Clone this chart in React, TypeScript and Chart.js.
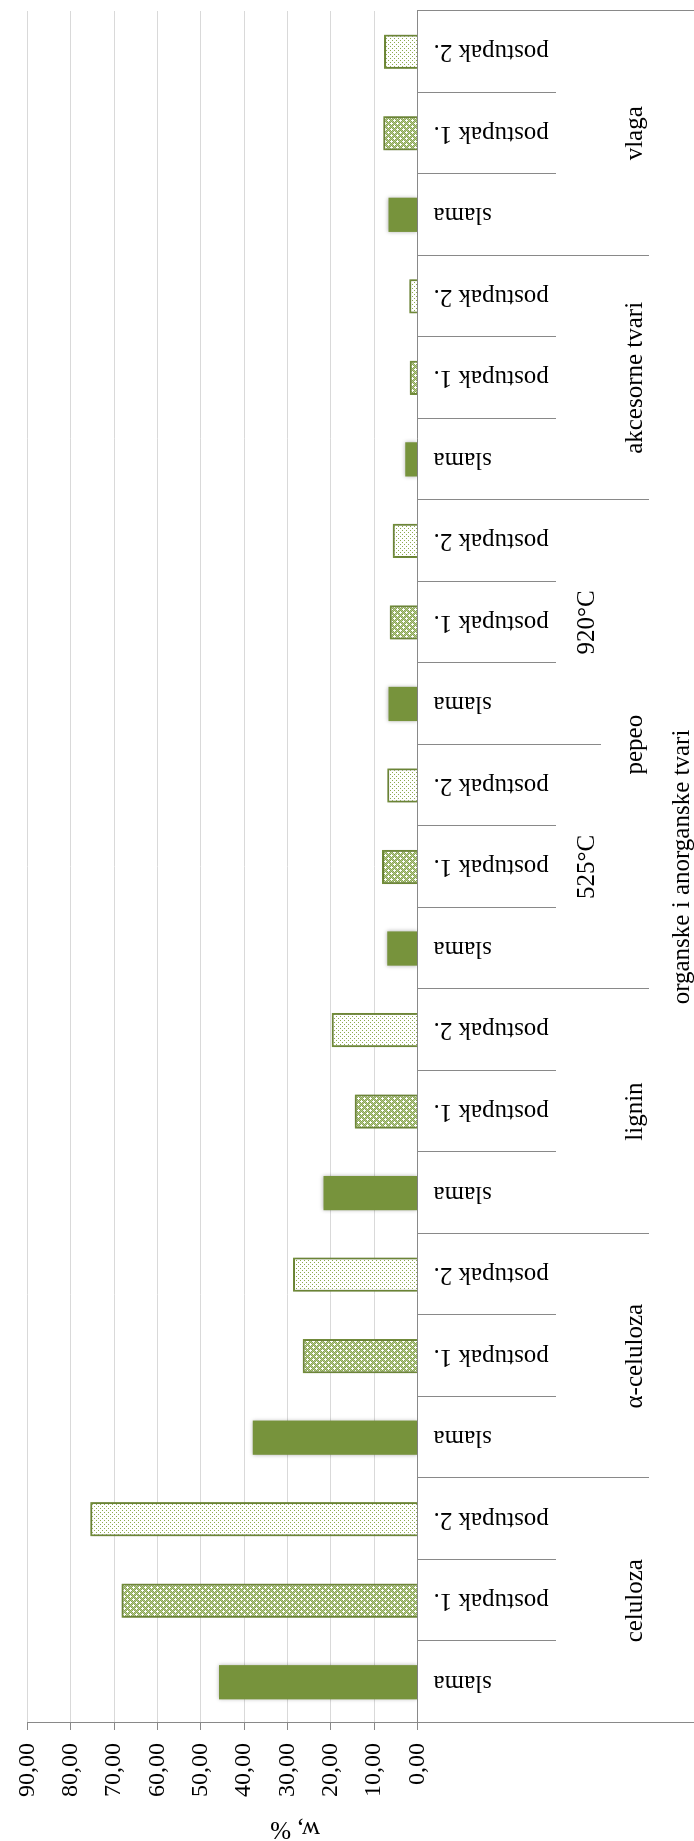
import React, { useEffect, useRef } from 'react';
import { Chart, registerables } from 'chart.js';

Chart.register(...registerables);

// ---- data ----
const sampleLabels = ['slama', 'postupak 1.', 'postupak 2.'];
const groupNames = ['celuloza', 'α-celuloza', 'lignin', 'pepeo', 'akcesorne tvari', 'vlaga'];
const groupTripleCounts = [1, 1, 1, 2, 1, 1];
const pepeoTemps = ['525°C', '920°C'];
const pepeoTripleIndex = [3, 4];
const topGroupLabel = 'organske i anorganske tvari';
const yAxisTitle = 'w, %';

// one value per triple (celuloza, α-celuloza, lignin, pepeo 525, pepeo 920, akcesorne, vlaga)
const slamaValues = [45.8, 38.0, 21.7, 7.0, 6.7, 2.8, 6.7];
const postupak1Values = [68.3, 26.5, 14.5, 8.2, 6.4, 1.8, 7.9];
const postupak2Values = [75.5, 28.7, 19.8, 7.0, 5.7, 1.9, 7.7];

const yMin = 0;
const yMax = 90;
const yStep = 10;

const GREEN = '#77933C';
const FONT = "'Liberation Serif', 'Times New Roman', serif";

function makePattern1(): CanvasPattern | string {
  const c = document.createElement('canvas');
  c.width = 6;
  c.height = 6;
  const g = c.getContext('2d');
  if (!g) return '#A9BF7F';
  const plus = new Set<string>();
  [[1, 1], [4, 4]].forEach(([cx, cy]) => {
    [[0, 0], [1, 0], [-1, 0], [0, 1], [0, -1]].forEach(([dx, dy]) => {
      plus.add(((cx + dx + 6) % 6) + ',' + ((cy + dy + 6) % 6));
    });
  });
  for (let y = 0; y < 6; y++) {
    for (let x = 0; x < 6; x++) {
      if (plus.has(x + ',' + y)) g.fillStyle = '#FFFFFF';
      else g.fillStyle = (x + y) % 2 === 0 ? '#8AA652' : '#B4C88E';
      g.fillRect(x, y, 1, 1);
    }
  }
  return g.createPattern(c, 'repeat') || '#A9BF7F';
}

function makePattern2(): CanvasPattern | string {
  const c = document.createElement('canvas');
  c.width = 4;
  c.height = 4;
  const g = c.getContext('2d');
  if (!g) return '#EEF2E6';
  g.fillStyle = '#FFFFFF';
  g.fillRect(0, 0, 4, 4);
  g.fillStyle = '#8CAA4E';
  g.fillRect(0, 0, 1, 1);
  g.fillRect(2, 2, 1, 1);
  return g.createPattern(c, 'repeat') || '#EEF2E6';
}

export default function App() {
  const ref = useRef<HTMLCanvasElement>(null);

  useEffect(() => {
    const canvas = ref.current;
    if (!canvas) return;

    const labels: string[] = [];
    const values: number[] = [];
    const sampleIdx: number[] = [];
    for (let t = 0; t < slamaValues.length; t++) {
      const triple = [slamaValues[t], postupak1Values[t], postupak2Values[t]];
      for (let s = 0; s < 3; s++) {
        labels.push(sampleLabels[s]);
        values.push(triple[s]);
        sampleIdx.push(s);
      }
    }
    const p1 = makePattern1();
    const p2 = makePattern2();
    const bg = sampleIdx.map((s) => (s === 0 ? GREEN : s === 1 ? p1 : p2));
    const bw = sampleIdx.map((s) => (s === 0 ? 0 : 2));

    const L1 = 556;
    const L2 = 601;
    const L3 = 649;

    const axisPlugin = {
      id: 'multiLevelAxis',
      afterDraw(chart: any) {
        const { ctx, chartArea } = chart;
        const x = chart.scales.x;
        const n = labels.length;
        const half = (x.getPixelForValue(1) - x.getPixelForValue(0)) / 2;
        const edge = (k: number) =>
          k < n ? x.getPixelForValue(k) - half : x.getPixelForValue(n - 1) + half;
        const top = chartArea.bottom;
        const H = chart.height;
        ctx.save();
        ctx.strokeStyle = '#898989';
        ctx.lineWidth = 1;
        for (let k = 0; k <= n; k++) {
          let end = L1;
          if (k === 0 || k === n) end = H;
          else if (k % 3 === 0) {
            const t = k / 3;
            end = pepeoTripleIndex.includes(t) && pepeoTripleIndex.includes(t - 1) ? L2 : L3;
          }
          const px = Math.round(edge(k)) + 0.5;
          ctx.beginPath();
          ctx.moveTo(px, Math.round(top));
          ctx.lineTo(px, end);
          ctx.stroke();
        }
        ctx.fillStyle = '#000';
        ctx.textAlign = 'center';
        ctx.textBaseline = 'alphabetic';
        ctx.font = `25px ${FONT}`;
        pepeoTemps.forEach((lbl, i) => {
          const t = pepeoTripleIndex[i];
          ctx.fillText(lbl, (edge(3 * t) + edge(3 * t + 3)) / 2, 594);
        });
        let st = 0;
        groupNames.forEach((g, i) => {
          const sp = groupTripleCounts[i];
          ctx.fillText(g, (edge(3 * st) + edge(3 * (st + sp))) / 2, 642);
          st += sp;
        });
        ctx.fillText(topGroupLabel, (edge(0) + edge(n)) / 2, 689);

        // value axis title
        ctx.save();
        ctx.translate(12, 295);
        ctx.rotate(-Math.PI / 2);
        ctx.textBaseline = 'middle';
        ctx.font = `25px ${FONT}`;
        ctx.fillText(yAxisTitle, 0, 0);
        ctx.restore();
        ctx.restore();
      },
    };

    const shadowPlugin = {
      id: 'barShadow',
      beforeDatasetsDraw(chart: any) {
        const c = chart.ctx;
        c.save();
        c.shadowColor = 'rgba(0,0,0,0.3)';
        c.shadowBlur = 4;
        c.shadowOffsetX = 0;
        c.shadowOffsetY = 0;
      },
      afterDatasetsDraw(chart: any) {
        chart.ctx.restore();
      },
    };

    const chart = new Chart(canvas, {
      type: 'bar',
      data: {
        labels,
        datasets: [
          {
            data: values,
            backgroundColor: bg as any,
            borderColor: GREEN,
            borderWidth: bw,
            barPercentage: 0.42,
            categoryPercentage: 1,
          },
        ],
      },
      options: {
        responsive: false,
        animation: false,
        devicePixelRatio: 1,
        layout: { padding: { top: 22.5, right: 11, bottom: 0, left: 0 } },
        plugins: {
          legend: { display: false },
          tooltip: { enabled: false },
        },
        scales: {
          x: {
            grid: { display: false, drawTicks: false },
            border: { display: true, color: '#898989', width: 1 },
            ticks: {
              autoSkip: false,
              maxRotation: 90,
              minRotation: 90,
              padding: 16,
              color: '#000',
              font: { family: FONT, size: 25 },
            },
            afterFit: (s: any) => {
              s.height = 276.5;
            },
          },
          y: {
            min: yMin,
            max: yMax,
            ticks: {
              stepSize: yStep,
              padding: 13,
              color: '#000',
              font: { family: FONT, size: 24 },
              callback: (v: any) => Number(v).toFixed(2).replace('.', ','),
            },
            grid: { color: '#D9D9D9', tickColor: '#898989', tickLength: 7, drawTicks: true },
            border: { display: true, color: '#898989', width: 1 },
            afterFit: (s: any) => {
              s.width = 118;
            },
          },
        },
      },
      plugins: [shadowPlugin, axisPlugin],
    });
    return () => chart.destroy();
  }, []);

  return (
    <div
      style={{
        position: 'absolute',
        left: 0,
        top: 0,
        width: 694,
        height: 1841,
        overflow: 'hidden',
        background: '#fff',
      }}
    >
      <div
        style={{
          position: 'absolute',
          left: 0,
          top: 0,
          width: 1841,
          height: 694,
          transformOrigin: '0 0',
          transform: 'translateY(1841px) rotate(-90deg)',
        }}
      >
        <canvas ref={ref} width={1841} height={694} style={{ display: 'block', width: 1841, height: 694 }} />
      </div>
    </div>
  );
}
